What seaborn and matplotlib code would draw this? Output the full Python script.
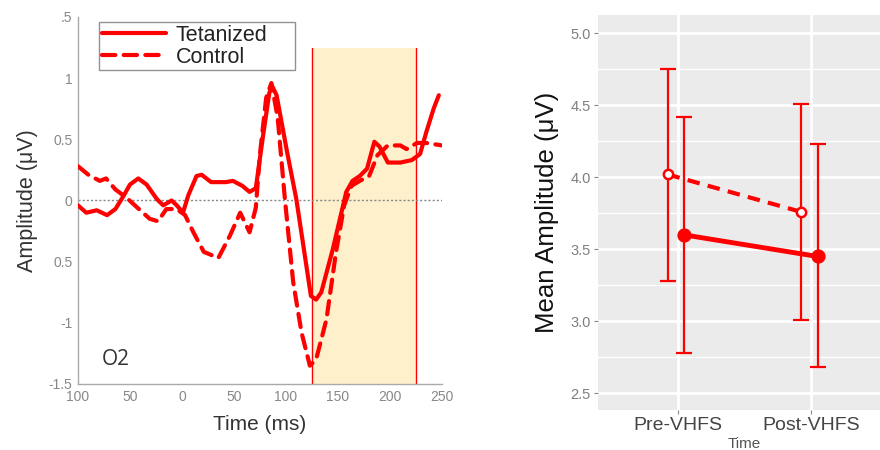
import numpy as np
import pandas as pd
import matplotlib
matplotlib.use("Agg")
import matplotlib.pyplot as plt
import seaborn as sns

# ---- left panel: ERP waveforms at O2 ----
tet_time = [-100, -92, -82, -72, -64, -56, -50, -42, -34, -24, -18, -10, -5, 1, 6, 14, 19, 28,
            42, 49, 58, 65, 71, 78, 84, 87, 91, 101, 110, 124, 129, 134, 145, 158, 164, 171, 178,
            185, 190, 198, 210, 221, 229, 235, 242, 247]
tet_amp = [-0.04, -0.10, -0.08, -0.12, -0.07, 0.04, 0.13, 0.18, 0.13, 0.01, -0.04, 0.00, -0.04,
           -0.10, 0.04, 0.20, 0.21, 0.15, 0.15, 0.16, 0.12, 0.07, 0.10, 0.53, 0.88, 0.93, 0.86, 0.40,
           0.01, -0.78, -0.81, -0.75, -0.40, 0.07, 0.16, 0.20, 0.26, 0.48, 0.44, 0.31, 0.31,
           0.33, 0.38, 0.56, 0.75, 0.86]

ctl_time = [-100, -90, -79, -73, -64, -53, -44, -31, -23, -15, -5, 3, 11, 21, 35, 46, 56, 65,
            71, 75, 81, 86, 92, 99, 107, 115, 123, 129, 139, 148, 156, 163, 171, 180, 188,
            198, 210, 216, 226, 235, 250]
ctl_amp = [0.28, 0.21, 0.16, 0.18, 0.09, 0.02, -0.05, -0.15, -0.17, -0.07, -0.07, -0.12, -0.26,
           -0.42, -0.47, -0.29, -0.10, -0.26, -0.06, 0.38, 0.84, 0.96, 0.68, 0.01, -0.67, -1.08,
           -1.35, -1.30, -0.97, -0.43, -0.04, 0.12, 0.16, 0.20, 0.37, 0.45, 0.45, 0.42, 0.47,
           0.47, 0.45]

window = (125, 225)
x_ticks = [-100, -50, 0, 50, 100, 150, 200, 250]
x_ticklabels = ["100", "50", "0", "50", "100", "150", "200", "250"]
y_ticks = [-1.5, -1, -0.5, 0, 0.5, 1, 1.5]
y_ticklabels = ["-1.5", "-1", "0.5", "0", "0.5", "1", ".5"]

# ---- right panel: mean amplitude per condition ----
times = ["Pre-VHFS", "Post-VHFS"]
ctl_mean = [4.02, 3.76]
ctl_lo = [3.28, 3.01]
ctl_hi = [4.75, 4.51]
tet_mean = [3.60, 3.45]
tet_lo = [2.78, 2.68]
tet_hi = [4.42, 4.23]

red = "#ff0000"

sns.set_style("white")
plt.rcParams["font.family"] = ["Liberation Sans", "DejaVu Sans"]

fig = plt.figure(figsize=(8.8, 4.5), dpi=100)

# left
ax = fig.add_axes([0.0886, 0.1467, 0.4136, 0.8156])
ax.axvspan(window[0], window[1], ymin=0, ymax=(1.25 + 1.5) / 3, color="#fff0cc", lw=0, zorder=0)
for w in window:
    ax.plot([w, w], [-1.5, 1.25], color=red, lw=1.0, zorder=1)
ax.axhline(0, color="#888888", lw=1, ls=(0, (1.5, 1.5)), zorder=1)

waves = pd.concat([
    pd.DataFrame({"time": tet_time, "amp": tet_amp, "group": "Tetanized"}),
    pd.DataFrame({"time": ctl_time, "amp": ctl_amp, "group": "Control"}),
])
sns.lineplot(data=waves, x="time", y="amp", style="group", color=red, lw=3,
             dashes={"Tetanized": "", "Control": (3.2, 2)}, sort=False,
             estimator=None, ax=ax, zorder=3)
for ln in ax.lines[3:]:
    ln.set_solid_joinstyle("round")
    ln.set_solid_capstyle("round")
    ln.set_dash_joinstyle("round")
    ln.set_dash_capstyle("round")
ax.set_xlim(-100, 250)
ax.set_ylim(-1.5, 1.5)
ax.set_xticks(x_ticks)
ax.set_xticklabels(x_ticklabels)
ax.set_yticks(y_ticks)
ax.set_yticklabels(y_ticklabels)
ax.tick_params(direction="in", length=3, color="#999999", labelcolor="#888888", labelsize=10, pad=4)
sns.despine(ax=ax)
for s in ["left", "bottom"]:
    ax.spines[s].set_color("#aaaaaa")
    ax.spines[s].set_linewidth(1)
ax.set_xlabel("Time (ms)", fontsize=15, color="#333333", labelpad=8)
ax.set_ylabel("Amplitude (μV)", fontsize=15.5, color="#333333", labelpad=8)
ax.text(-64, -1.3, "O2", fontsize=15, family="Open Sans", color="#333333", ha="center", va="center")
leg = ax.legend(loc="upper left", bbox_to_anchor=(0.058, 0.869, 0.538, 0.117), mode="expand",
                borderaxespad=0, fontsize=15.5, handlelength=3.0, handletextpad=0.45,
                labelspacing=0.05, borderpad=0.12, frameon=True, fancybox=False, title=None)
leg.get_frame().set_edgecolor("#777777")
leg.get_frame().set_linewidth(1)
for t in leg.get_texts():
    t.set_color("#222222")

# right
ax2 = fig.add_axes([0.679, 0.0889, 0.3335, 0.8778])
ax2.set_facecolor("#ebebeb")
pos = np.arange(len(times))
ax2.set_xlim(-0.6, 1.6)
ax2.set_ylim(2.384, 5.127)
ax2.set_yticks([2.5, 3.0, 3.5, 4.0, 4.5, 5.0])
ax2.set_yticks([2.75, 3.25, 3.75, 4.25, 4.75], minor=True)
ax2.set_xticks(pos)
ax2.set_xticklabels(times)
ax2.grid(which="major", color="white", lw=2)
ax2.grid(which="minor", axis="y", color="white", lw=1)
ax2.set_axisbelow(True)

ctl_x = pos - 0.075
tet_x = pos + 0.05
ax2.errorbar(ctl_x, ctl_mean, yerr=[np.subtract(ctl_mean, ctl_lo), np.subtract(ctl_hi, ctl_mean)],
             fmt="none", ecolor=red, elinewidth=1.6, capsize=6, capthick=1.6, zorder=2)
ax2.errorbar(tet_x, tet_mean, yerr=[np.subtract(tet_mean, tet_lo), np.subtract(tet_hi, tet_mean)],
             fmt="none", ecolor=red, elinewidth=1.6, capsize=6, capthick=1.6, zorder=2)
sns.lineplot(x=ctl_x, y=ctl_mean, color=red, lw=3, dashes=False, ax=ax2, zorder=3)
ax2.lines[-1].set_linestyle((0, (3, 2)))
sns.lineplot(x=tet_x, y=tet_mean, color=red, lw=3.5, ax=ax2, zorder=3)
sns.scatterplot(x=ctl_x, y=ctl_mean, color="white", edgecolor=red, linewidth=1.8, s=45, ax=ax2, zorder=4)
sns.scatterplot(x=tet_x, y=tet_mean, color=red, edgecolor=red, s=90, ax=ax2, zorder=4)

for s in ax2.spines.values():
    s.set_visible(False)
ax2.tick_params(axis="y", which="major", length=3, color="#888888", labelcolor="#7f7f7f",
                labelsize=10.5, pad=2, left=True)
ax2.tick_params(axis="y", which="minor", length=0)
ax2.tick_params(axis="x", length=3, color="#888888", labelcolor="#444444", labelsize=14, pad=2, bottom=True)
ax2.set_xlabel("Time", fontsize=11, color="#555555", labelpad=2)
ax2.set_ylabel("Mean Amplitude (μV)", fontsize=18.5, color="#111111", labelpad=8)

fig.savefig("out.png", dpi=100)
